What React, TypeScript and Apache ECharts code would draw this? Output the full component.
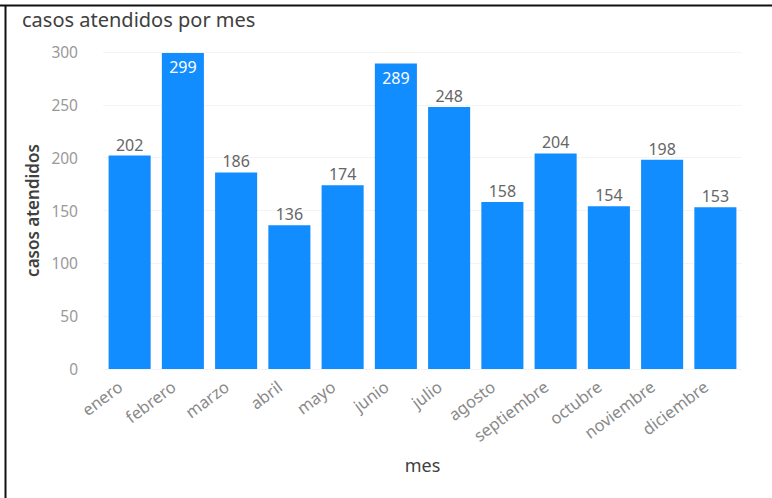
import React, { useEffect, useRef } from "react";
import * as echarts from "echarts";

const categories = ["enero", "febrero", "marzo", "abril", "mayo", "junio", "julio", "agosto", "septiembre", "octubre", "noviembre", "diciembre"];
const values = [202, 299, 186, 136, 174, 289, 248, 158, 204, 154, 198, 153];
const insideLabels = [299, 289];
const yTicks = { min: 0, max: 300, interval: 50 };

export default function App() {
  const ref = useRef<HTMLDivElement>(null);
  useEffect(() => {
    const chart = echarts.init(ref.current!, null, { renderer: "svg" });
    const font = "'Noto Sans', 'Open Sans', sans-serif";
    chart.setOption({
      animation: false,
      backgroundColor: "#ffffff",
      title: {
        text: "casos atendidos por mes",
        left: 17,
        top: 4,
        textStyle: { fontFamily: font, fontSize: 20, fontWeight: "normal", color: "#404040" },
      },
      graphic: [
        { type: "line", shape: { x1: 0, y1: 5.5, x2: 772, y2: 5.5 }, style: { stroke: "#111", lineWidth: 2 } },
        { type: "line", shape: { x1: 5.5, y1: 5, x2: 5.5, y2: 498 }, style: { stroke: "#111", lineWidth: 2 } },
      ],
      grid: { left: 103, right: 30, top: 52, bottom: 129 },
      xAxis: {
        type: "category",
        data: categories,
        name: "mes",
        nameLocation: "middle",
        nameGap: 87,
        nameTextStyle: { fontFamily: font, fontSize: 18, color: "#404040" },
        axisLine: { show: false },
        axisTick: { show: false },
        axisLabel: {
          rotate: 37,
          fontFamily: font,
          fontSize: 16.5,
          color: "#8a8a8a",
          margin: 8,
          padding: [0, 12, 0, 0],
        },
      },
      yAxis: {
        type: "value",
        min: yTicks.min,
        max: yTicks.max,
        interval: yTicks.interval,
        name: "casos atendidos",
        nameLocation: "middle",
        nameGap: 57,
        nameTextStyle: { fontFamily: font, fontSize: 17, color: "#404040", fontWeight: 600 },
        axisLabel: { fontFamily: font, fontSize: 15.5, color: "#999999", margin: 25 },
        splitLine: { lineStyle: { color: "#f4f4f4", width: 1 } },
      },
      series: [
        {
          type: "bar",
          data: values.map((v) =>
            insideLabels.includes(v)
              ? { value: v, label: { position: "insideTop", color: "#ffffff", distance: 6 } }
              : v
          ),
          barCategoryGap: "21%",
          itemStyle: { color: "#118DFF" },
          label: {
            show: true,
            position: "top",
            distance: 3,
            fontFamily: font,
            fontSize: 16,
            color: "#666666",
          },
        },
      ],
    });
    return () => chart.dispose();
  }, []);
  return <div ref={ref} style={{ position: "fixed", left: 0, top: 0, width: 772, height: 498 }} />;
}
